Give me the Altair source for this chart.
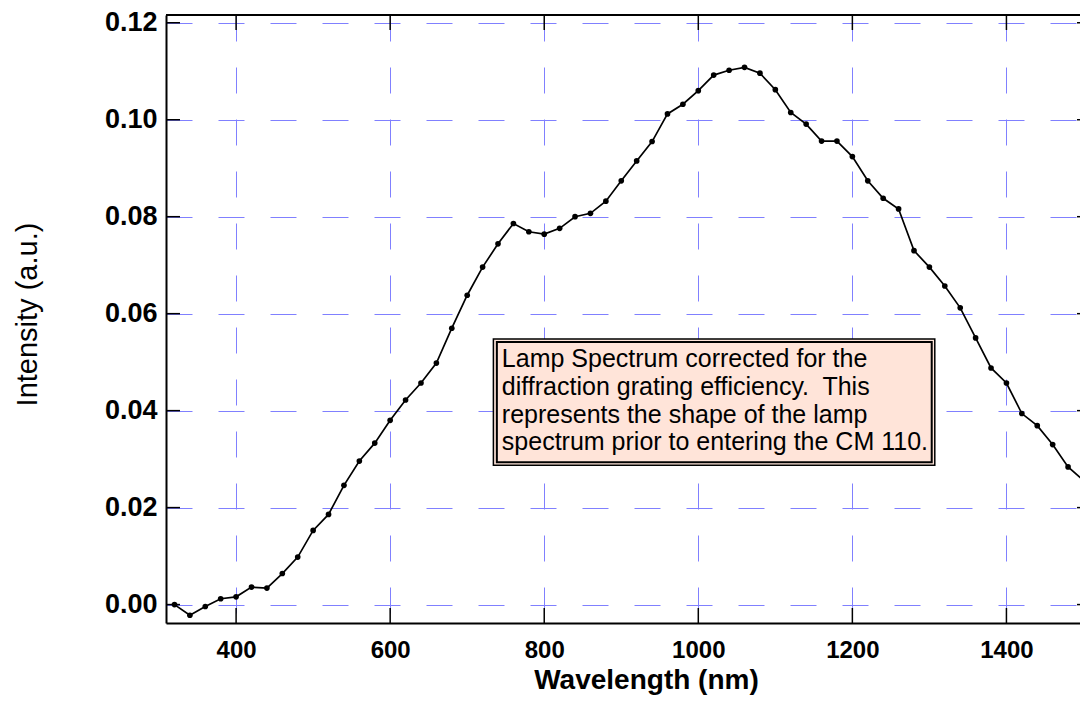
import altair as alt
import pandas as pd

# ---- data ----
wavelength_nm = [320, 340, 360, 380, 400, 420, 440, 460, 480, 500,
                 520, 540, 560, 580, 600, 620, 640, 660, 680, 700,
                 720, 740, 760, 780, 800, 820, 840, 860, 880, 900,
                 920, 940, 960, 980, 1000, 1020, 1040, 1060, 1080, 1100,
                 1120, 1140, 1160, 1180, 1200, 1220, 1240, 1260, 1280, 1300,
                 1320, 1340, 1360, 1380, 1400, 1420, 1440, 1460, 1480, 1500]
intensity = [0.0000, -0.0022, -0.0004, 0.0012, 0.0016, 0.0036, 0.0034, 0.0064, 0.0098, 0.0153,
             0.0186, 0.0246, 0.0296, 0.0333, 0.0380, 0.0422, 0.0457, 0.0498, 0.0570, 0.0638,
             0.0696, 0.0744, 0.0786, 0.0769, 0.0764, 0.0776, 0.0800, 0.0807, 0.0832, 0.0874,
             0.0915, 0.0955, 0.1012, 0.1032, 0.1060, 0.1092, 0.1102, 0.1108, 0.1096, 0.1062,
             0.1015, 0.0991, 0.0956, 0.0956, 0.0924, 0.0874, 0.0838, 0.0816, 0.0730, 0.0696,
             0.0657, 0.0612, 0.0550, 0.0488, 0.0457, 0.0394, 0.0369, 0.0330, 0.0284, 0.0256]
x_ticks = [400, 600, 800, 1000, 1200, 1400]
y_ticks = [0.00, 0.02, 0.04, 0.06, 0.08, 0.10, 0.12]
note_lines = ["Lamp Spectrum corrected for the",
              "diffraction grating efficiency.\u00a0 This",
              "represents the shape of the lamp",
              "spectrum prior to entering the CM 110."]
x_title = "Wavelength (nm)"
y_title = "Intensity (a.u.)"

# annotation box anchor (data coordinates)
box_outer = {"x1": 734, "x2": 1307, "y1": 0.05476, "y2": 0.02875}
box_inner = {"x1": 738.5, "x2": 1303, "y1": 0.05414, "y2": 0.02936}
note_anchor = {"x": 745, "y": 0.04892}

# ---- layout / style ----
W, H = 914, 608
FONT = "Liberation Sans"
GRID = "#8080ff"

xscale = alt.Scale(domain=[309, 1495.5], nice=False, zero=False)
yscale = alt.Scale(domain=[-0.0038, 0.1216], nice=False, zero=False)

df = pd.DataFrame({"wl": wavelength_nm, "inten": intensity})
xt = pd.DataFrame({"wl": x_ticks})
yt = pd.DataFrame({"inten": y_ticks})
one = pd.DataFrame({"a": [0]})

x_axis = alt.Axis(values=x_ticks, format="d", title=x_title,
                  grid=True, gridColor=GRID, gridDash=[26, 26], gridWidth=1,
                  domain=True, domainColor="black", domainWidth=2,
                  ticks=False, tickSize=0,
                  labelFont=FONT, labelFontWeight="bold", labelFontSize=24,
                  labelColor="black", labelPadding=15,
                  titleFont=FONT, titleFontWeight="bold", titleFontSize=28,
                  titleColor="black", titleX=480, titleY=65,
                  titleBaseline="alphabetic", titleAlign="center")
y_axis = alt.Axis(values=y_ticks, format=".2f", title=y_title,
                  grid=True, gridColor=GRID, gridDash=[26, 26], gridWidth=1,
                  domain=True, domainColor="black", domainWidth=2,
                  ticks=False, tickSize=0,
                  labelFont=FONT, labelFontWeight="bold", labelFontSize=27,
                  labelColor="black", labelPadding=9,
                  titleFont=FONT, titleFontWeight="normal", titleFontSize=29,
                  titleColor="black", titleX=-130, titleY=299,
                  titleBaseline="alphabetic", titleAlign="center", titleAngle=270)


def X(field):
    return alt.X(f"{field}:Q", scale=xscale, axis=x_axis, title=x_title)


def Y(field):
    return alt.Y(f"{field}:Q", scale=yscale, axis=y_axis, title=y_title)


line = alt.Chart(df).mark_line(color="black", strokeWidth=1.7, clip=True).encode(
    x=X("wl"), y=Y("inten"))
pts = alt.Chart(df).mark_point(filled=True, color="black", opacity=1, size=32, clip=True).encode(
    x=X("wl"), y=Y("inten"))

# frame top and inward tick marks on all sides
top_frame = alt.Chart(one).mark_rule(color="black", strokeWidth=2).encode(
    x=alt.value(0), x2=alt.value(W), y=alt.value(0))
bottom_ticks = alt.Chart(xt).mark_rule(color="black", strokeWidth=1.5).encode(
    x=X("wl"), y=alt.value(H), y2=alt.value(H - 15))
top_ticks = alt.Chart(xt).mark_rule(color="black", strokeWidth=1.5).encode(
    x=X("wl"), y=alt.value(0), y2=alt.value(15))
left_ticks = alt.Chart(yt).mark_rule(color="black", strokeWidth=1.5).encode(
    y=Y("inten"), x=alt.value(0), x2=alt.value(14))
right_ticks = alt.Chart(yt).mark_rule(color="black", strokeWidth=1.5).encode(
    y=Y("inten"), x=alt.value(W - 3), x2=alt.value(W))

# annotation box
outer = alt.Chart(pd.DataFrame([box_outer])).mark_rect(
    fill="#FFE4D9", stroke="black", strokeWidth=1.5).encode(
    x=X("x1"), x2="x2:Q", y=Y("y1"), y2="y2:Q")
inner = alt.Chart(pd.DataFrame([box_inner])).mark_rect(
    fillOpacity=0, stroke="black", strokeWidth=2).encode(
    x=X("x1"), x2="x2:Q", y=Y("y1"), y2="y2:Q")
note = alt.Chart(pd.DataFrame([note_anchor])).mark_text(
    text=note_lines, align="left", baseline="alphabetic", font=FONT,
    fontSize=25, lineHeight=27.7, color="black").encode(
    x=X("x"), y=Y("y"))

chart = alt.layer(line, pts, top_frame, bottom_ticks, top_ticks, left_ticks,
                  right_ticks, outer, inner, note).properties(
    width=W, height=H,
    padding={"left": 166, "top": 15, "right": 0, "bottom": 91},
    autosize=alt.AutoSizeParams(type="none"),
).configure_view(stroke=None).configure(background="white")

chart.save("out.html", embed_options={"renderer": "svg", "actions": False})
